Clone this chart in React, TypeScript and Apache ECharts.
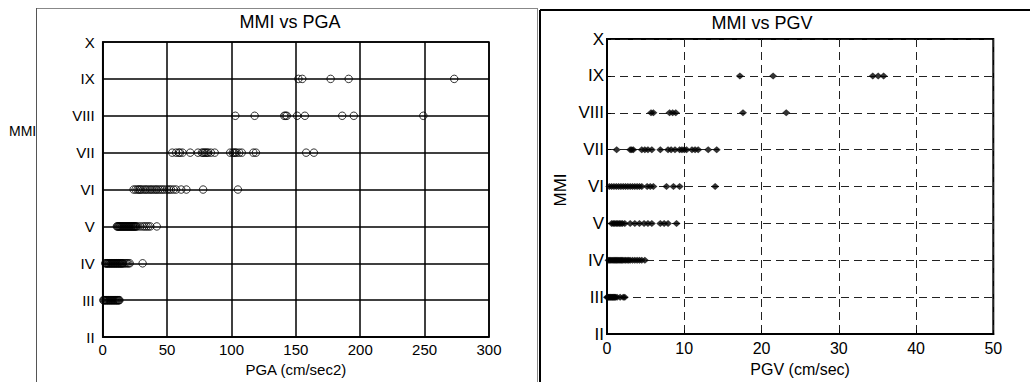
import React, { useEffect, useRef } from 'react';
import * as echarts from 'echarts';

const mmiTicks = ['II', 'III', 'IV', 'V', 'VI', 'VII', 'VIII', 'IX', 'X'];
const pgaTicks = [0, 50, 100, 150, 200, 250, 300];
const pgvTicks = [0, 10, 20, 30, 40, 50];

// PGA (cm/sec2) per MMI level
const pgaIII = [0.5, 1, 1.5, 2, 2.5, 3, 3.5, 4, 4.5, 5, 5.5, 6, 6.5, 7, 7.5, 8, 8.5, 9, 9.5, 10, 10.5, 11, 11.5, 12, 12.5, 13];
const pgaIV = [2, 2.5, 3, 3.5, 4, 4.5, 5, 5.5, 6, 6.5, 7, 7.5, 8, 8.5, 9, 9.5, 10, 10.5, 11, 11.5, 12, 12.5, 13, 13.5, 14, 14.5, 15, 15.5, 16, 17, 18, 19, 20, 21, 31];
const pgaV = [11, 11.5, 12, 12.5, 13, 13.5, 14, 14.5, 15, 15.5, 16, 16.5, 17, 17.5, 18, 18.5, 19, 19.5, 20, 20.5, 21, 21.5, 22, 22.5, 23, 23.5, 24, 24.5, 25, 25.5, 26, 27, 29, 31, 32.5, 34, 35.5, 37, 42];
const pgaVI = [24, 25.5, 27, 28, 29, 30, 31.5, 33, 34, 35.5, 37, 38, 39.5, 41, 42, 43.5, 45, 46.5, 48, 50, 51.5, 53, 55, 57, 61, 65, 78, 105];
const pgaVII = [54, 57, 59, 60, 62, 68, 74, 77, 78, 79, 80, 81, 82, 84, 87, 99, 101, 102, 103, 104, 106, 108, 117, 119, 158, 164];
const pgaVIII = [103, 118, 141, 142, 143, 151, 157, 186, 195, 249];
const pgaIX = [152, 155, 177, 191, 273];

// PGV (cm/sec) per MMI level
const pgvIII = [0, 0.1, 0.2, 0.3, 0.4, 0.5, 0.6, 0.7, 0.8, 0.9, 1.0, 1.1, 1.3, 1.7, 2.1, 2.3];
const pgvIV = [0.2, 0.35, 0.5, 0.65, 0.8, 0.95, 1.1, 1.25, 1.4, 1.55, 1.7, 1.85, 2.0, 2.2, 2.4, 2.6, 2.8, 3.0, 3.3, 3.6, 3.9, 4.2, 4.5, 4.9];
const pgvV = [0.6, 0.8, 1.0, 1.2, 1.4, 1.6, 1.8, 2.0, 2.3, 3.0, 3.6, 4.2, 4.8, 5.3, 5.8, 6.9, 7.4, 7.9, 9.0];
const pgvVI = [0.3, 0.6, 0.9, 1.2, 1.5, 1.8, 2.1, 2.4, 2.7, 3.0, 3.3, 3.6, 3.9, 4.2, 4.5, 5.2, 5.6, 6.0, 7.7, 8.6, 9.4, 14.0];
const pgvVII = [1.25, 3.0, 3.2, 3.4, 4.5, 4.9, 5.3, 5.8, 6.9, 7.9, 8.3, 8.8, 9.4, 9.7, 10.0, 10.3, 11.0, 11.4, 11.8, 13.1, 14.2];
const pgvVIII = [5.7, 6.0, 8.1, 8.5, 8.9, 17.6, 23.2];
const pgvIX = [17.2, 21.5, 34.4, 35.1, 35.8];

const FONT = 'Liberation Sans, Arial, sans-serif';

function pairs(levels: [number, number[]][]) {
  const out: [number, number][] = [];
  levels.forEach(([lvl, vals]) => vals.forEach((v) => out.push([v, lvl])));
  return out;
}

export default function App() {
  const ref = useRef<HTMLDivElement>(null);
  useEffect(() => {
    const chart = echarts.init(ref.current!, null, { renderer: 'svg' });
    const pgaData = pairs([[3, pgaIII], [4, pgaIV], [5, pgaV], [6, pgaVI], [7, pgaVII], [8, pgaVIII], [9, pgaIX]]);
    const pgvData = pairs([[3, pgvIII], [4, pgvIV], [5, pgvV], [6, pgvVI], [7, pgvVII], [8, pgvVIII], [9, pgvIX]]);
    const romanFmt = (v: number) => mmiTicks[Math.round(v) - 2] ?? '';
    chart.setOption({
      animation: false,
      backgroundColor: '#fff',
      textStyle: { fontFamily: FONT, color: '#000' },
      grid: [
        { left: 102.7, top: 42, width: 386.3, height: 298, show: true, borderColor: '#000', borderWidth: 1.5, backgroundColor: 'transparent' },
        { left: 607, top: 39, width: 386.3, height: 301, show: true, borderColor: '#000', borderWidth: 2, backgroundColor: 'transparent' },
      ],
      xAxis: [
        {
          gridIndex: 0, type: 'value', min: pgaTicks[0], max: pgaTicks[pgaTicks.length - 1], interval: 50,
          name: 'PGA (cm/sec2)', nameLocation: 'middle', nameGap: 24,
          nameTextStyle: { fontSize: 15, color: '#000', fontFamily: FONT },
          axisLine: { show: true, lineStyle: { color: '#000', width: 1.5 } },
          axisTick: { show: false },
          axisLabel: { fontSize: 15, color: '#000', margin: 5, fontFamily: FONT },
          splitLine: { show: true, lineStyle: { color: '#000', width: 1.5, type: 'solid' } },
        },
        {
          gridIndex: 1, type: 'value', min: pgvTicks[0], max: pgvTicks[pgvTicks.length - 1], interval: 10,
          name: 'PGV (cm/sec)', nameLocation: 'middle', nameGap: 24,
          nameTextStyle: { fontSize: 16, color: '#000', fontFamily: FONT },
          axisLine: { show: true, lineStyle: { color: '#000', width: 2 } },
          axisTick: { show: true, inside: true, length: 4, lineStyle: { color: '#000' } },
          axisLabel: { fontSize: 16, color: '#000', margin: 6, fontFamily: FONT },
          splitLine: { show: true, lineStyle: { color: '#222', width: 1, type: [8, 5] } },
        },
      ],
      yAxis: [
        {
          gridIndex: 0, type: 'value', min: 2, max: 10, interval: 1,
          axisLine: { show: true, lineStyle: { color: '#000', width: 1.5 } },
          axisTick: { show: false },
          axisLabel: { fontSize: 15, color: '#000', margin: 8, formatter: romanFmt, fontFamily: FONT },
          splitLine: { show: true, lineStyle: { color: '#000', width: 1.5, type: 'solid' } },
        },
        {
          gridIndex: 1, type: 'value', min: 2, max: 10, interval: 1,
          axisLine: { show: true, lineStyle: { color: '#000', width: 2 } },
          axisTick: { show: true, inside: true, length: 4, lineStyle: { color: '#000' } },
          axisLabel: { fontSize: 17, color: '#000', margin: 3, formatter: romanFmt, fontFamily: FONT },
          splitLine: { show: true, lineStyle: { color: '#222', width: 1, type: [8, 5] } },
        },
      ],
      series: [
        {
          type: 'scatter', xAxisIndex: 0, yAxisIndex: 0, data: pgaData,
          symbol: 'circle', symbolSize: 7.5,
          itemStyle: { color: 'rgba(0,0,0,0)', borderColor: '#000', borderWidth: 1 },
          z: 5,
        },
        {
          type: 'scatter', xAxisIndex: 1, yAxisIndex: 1, data: pgvData,
          symbol: 'diamond', symbolSize: [8, 7],
          itemStyle: { color: '#000' },
          z: 5,
        },
      ],
      graphic: [
        { type: 'line', shape: { x1: 36, y1: 8.5, x2: 537, y2: 8.5 }, style: { stroke: '#888', lineWidth: 1 } },
        { type: 'line', shape: { x1: 36.5, y1: 8, x2: 36.5, y2: 382 }, style: { stroke: '#555', lineWidth: 1 } },
        { type: 'line', shape: { x1: 537.5, y1: 8, x2: 537.5, y2: 382 }, style: { stroke: '#888', lineWidth: 1 } },
        { type: 'line', shape: { x1: 540, y1: 10, x2: 1030, y2: 10 }, style: { stroke: '#000', lineWidth: 2 } },
        { type: 'line', shape: { x1: 540, y1: 10, x2: 540, y2: 382 }, style: { stroke: '#000', lineWidth: 2 } },
        { type: 'text', x: 290, y: 22, style: { text: 'MMI vs PGA', align: 'center', verticalAlign: 'middle', fontSize: 18, fill: '#000', fontFamily: FONT } },
        { type: 'text', x: 762, y: 23, style: { text: 'MMI vs PGV', align: 'center', verticalAlign: 'middle', fontSize: 18, fill: '#000', fontFamily: FONT } },
        { type: 'text', x: 9, y: 131, style: { text: 'MMI', align: 'left', verticalAlign: 'middle', fontSize: 14, fill: '#000', fontFamily: FONT } },
        { type: 'text', x: 560, y: 190, rotation: Math.PI / 2, style: { text: 'MMI', align: 'center', verticalAlign: 'middle', fontSize: 17, fill: '#000', fontFamily: FONT } },
      ],
    });
    return () => chart.dispose();
  }, []);
  return <div ref={ref} style={{ position: 'fixed', left: 0, top: 0, width: 1030, height: 382, background: '#fff' }} />;
}
